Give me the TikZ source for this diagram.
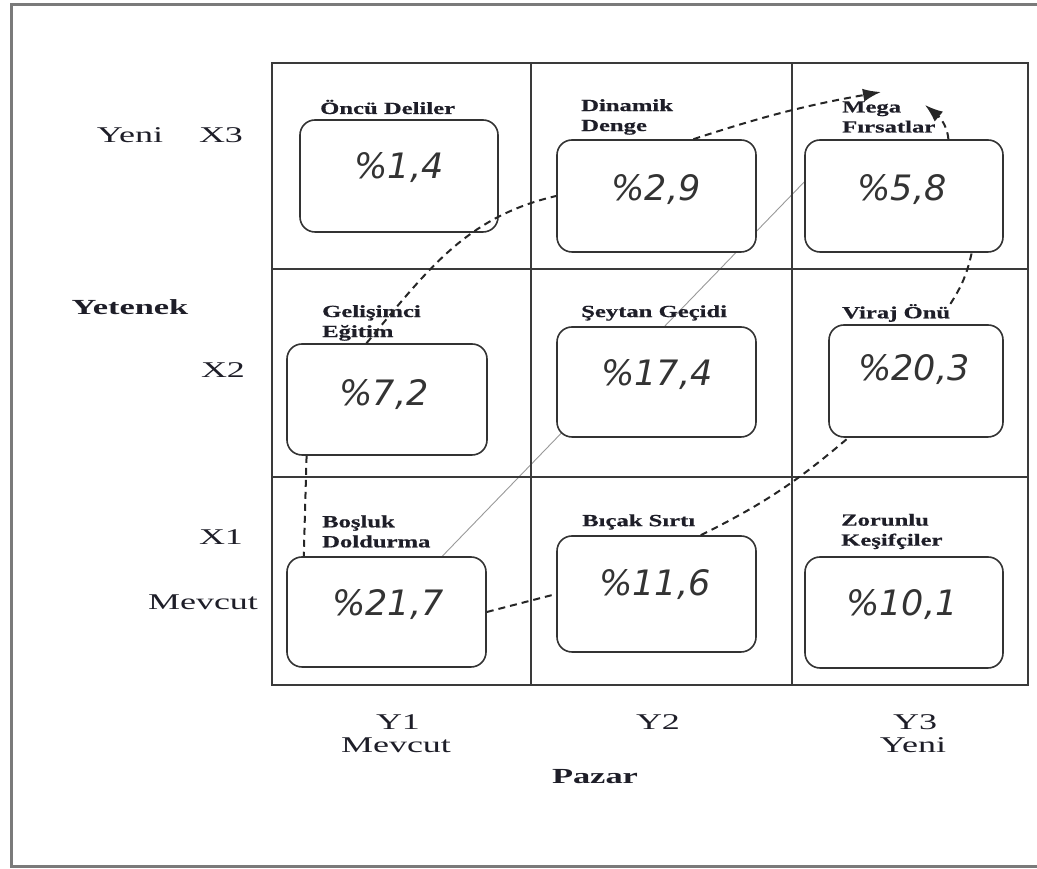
\documentclass[tikz,border=0pt]{standalone}
\usepackage{fontspec}
\setmainfont{Liberation Serif}
\newfontfamily\axisfont[FakeStretch=1.6]{Liberation Serif}
\newfontfamily\cellfont[FakeStretch=1.45,FakeBold=0.6]{Liberation Serif}
\newfontfamily\pctfont{DejaVu Sans}
\usetikzlibrary{arrows.meta,calc,backgrounds}
\definecolor{gridc}{HTML}{3A3A3A}
\definecolor{framec}{HTML}{7A7A7A}
\definecolor{txtc}{HTML}{1E1E28}
\definecolor{pctc}{HTML}{333333}
\begin{document}
\begin{tikzpicture}[x=1pt,y=1pt,
  cell/.style={draw=gridc, line width=2pt},
  box/.style 2 args={draw=black!80, line width=1.6pt, rounded corners=15pt, fill=white, inner sep=0pt, minimum width=#1, minimum height=#2},
  pct/.style={font=\pctfont\itshape\fontsize{35}{40}\selectfont, text=pctc, inner sep=0pt},
  lab/.style={font=\cellfont\bfseries\fontsize{17}{20}\selectfont, text=txtc, anchor=west, align=left, inner sep=0pt},
  ax/.style={font=\axisfont\fontsize{22.5}{28}\selectfont, text=txtc, inner sep=0pt},
  axb/.style={font=\axisfont\bfseries\fontsize{21.5}{26}\selectfont, text=txtc, inner sep=0pt},
  conn/.style={draw=black!85, line width=2pt, dash pattern=on 7pt off 5pt},
  guide/.style={draw=black!40, line width=0.9pt},
  tip/.style={-{Latex[length=18pt,width=13pt]}}
]
\useasboundingbox (0,0) rectangle (1037,869);
% outer frame
\draw[draw=framec, line width=3pt] (1045,864.5) -- (11,864.5) -- (11,2.5) -- (1045,2.5);
% grid
\draw[cell] (272,184) rectangle (1028,806);
\draw[cell] (531,184) -- (531,806);
\draw[cell] (792,184) -- (792,806);
\draw[cell] (272,392) -- (1028,392);
\draw[cell] (272,600) -- (1028,600);

% boxes
\node[box={198pt}{112pt}] (b14) at (399,693) {};
\node[box={199pt}{112pt}] (b29) at (656.5,673) {};
\node[box={198pt}{112pt}] (b58) at (904,673) {};
\node[box={200pt}{111pt}] (b72) at (387,469.5) {};
\node[box={199pt}{110pt}] (b174) at (656.5,487) {};
\node[box={174pt}{112pt}] (b203) at (916,488) {};
\node[box={199pt}{110pt}] (b217) at (386.5,257) {};
\node[box={199pt}{116pt}] (b116) at (656.5,275) {};
\node[box={198pt}{111pt}] (b101) at (904,256.5) {};

% percentages
\node[pct] (p14) at (399,701) {\%1,4};
\node[pct] (p29) at (656,679) {\%2,9};
\node[pct] (p58) at (902,679) {\%5,8};
\node[pct] (p72) at (384,474) {\%7,2};
\node[pct] (p174) at (657,494) {\%17,4};
\node[pct] (p203) at (914,499) {\%20,3};
\node[pct] (p217) at (388,264) {\%21,7};
\node[pct] (p116) at (655,284) {\%11,6};
\node[pct] (p101) at (902,264) {\%10,1};

% cell labels
\node[lab] (lonc) at (320,762) {Öncü Deliler};
\node[lab] (ldin) at (581,752) {Dinamik\\Denge};
\node[lab] (lmeg) at (842,752) {Mega\\Fırsatlar};
\node[lab] (lgel) at (322,546) {Gelişimci\\Eğitim};
\node[lab] (lsey) at (581,556) {Şeytan Geçidi};
\node[lab] (lvir) at (842,556) {Viraj Önü};
\node[lab] (lbos) at (322,337.5) {Boşluk\\Doldurma};
\node[lab] (lbic) at (582,347) {Bıçak Sırtı};
\node[lab] (lzor) at (841,337.5) {Zorunlu\\Keşifçiler};

% axis labels
\node[ax] (ayeni) at (130,734) {Yeni};
\node[ax] (ax3) at (221,734) {X3};
\node[axb] (ayet) at (130,562) {Yetenek};
\node[ax] (ax2) at (223,499) {X2};
\node[ax] (ax1) at (221,332) {X1};
\node[ax] (amev) at (203,267) {Mevcut};
\node[ax] (ay1) at (398,147) {Y1};
\node[ax] (amev2) at (396,124) {Mevcut};
\node[ax] (ay2) at (658,147) {Y2};
\node[ax] (ay3) at (915,147) {Y3};
\node[ax] (ayeni2) at (913,124) {Yeni};
\node[axb] (apaz) at (595,92) {Pazar};

% thin guide line behind boxes
\begin{pgfonlayer}{background}
\draw[guide] (b217.45) -- (b58.172);
\end{pgfonlayer}

% dashed connectors
\coordinate (tipA) at (925,764);
\coordinate (tipB) at (881,777);
\draw[conn] (b217.east) -- (b116.west);
\draw[conn] (b116.53) to[bend right=7] (b203.220);
\draw[conn] (lvir.north east) to[bend right=10] (b58.320);
\draw[conn,tip] (b58.52) to[out=95,in=-40] (tipA);
\draw[conn] (b72.215) -- (b217.146);
\draw[conn] (b72.110) to[out=50,in=193] (b29.west);
\draw[conn,tip] (b29.57) to[bend left=4] (tipB);
\end{tikzpicture}
\end{document}
